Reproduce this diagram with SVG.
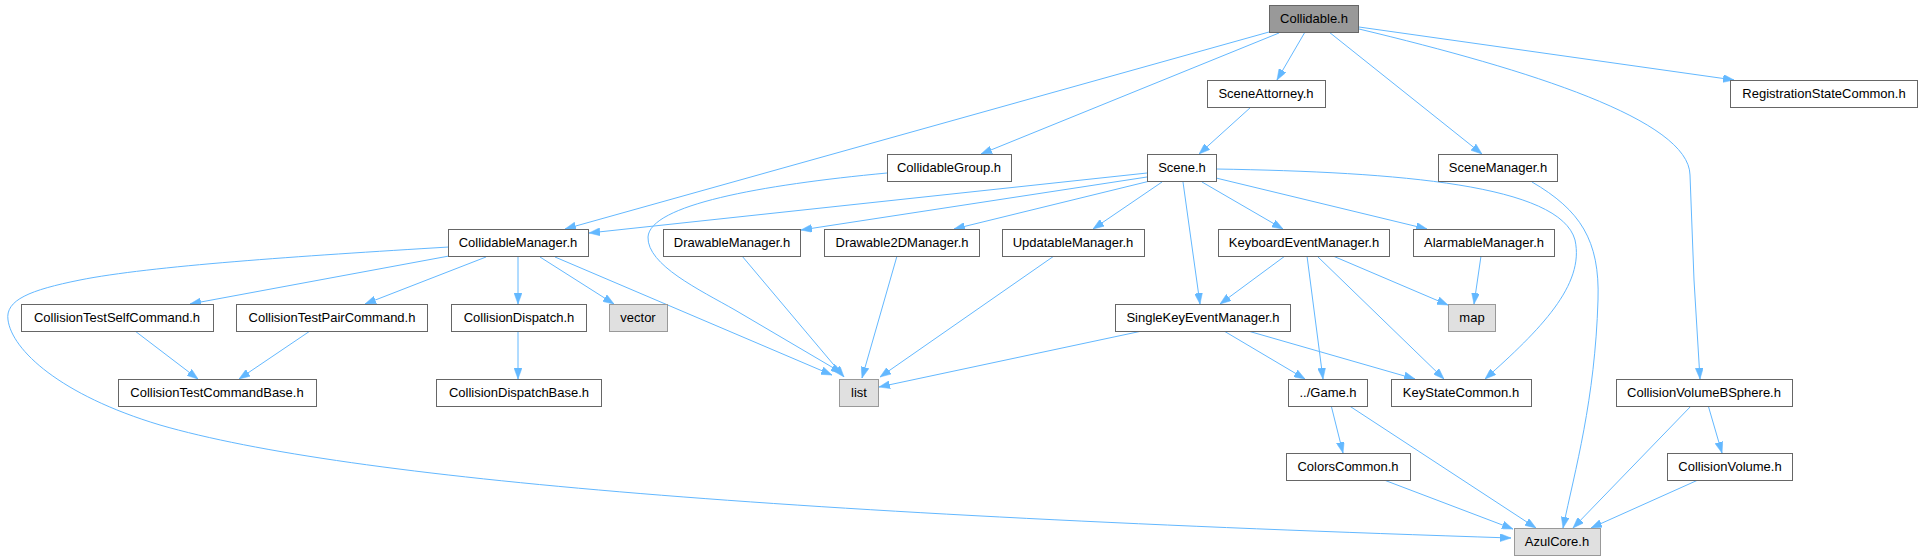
<svg xmlns="http://www.w3.org/2000/svg" width="1922" height="560" viewBox="0 0 1922 560">
<style>
.n rect{fill:#ffffff;stroke:#666666;stroke-width:1}
.n.root rect{fill:#999999;stroke:#666666}
.n.ext rect{fill:#e0e0e0;stroke:#999999}
.n text{font-family:"Liberation Sans",Arial,sans-serif;font-size:13px;fill:#000000;text-anchor:middle}
#edges path{fill:none;stroke:#63b8ff;stroke-width:1;marker-end:url(#ah)}
</style>
<defs>
<marker id="ah" viewBox="0 0 11 8" refX="11" refY="4" markerWidth="11" markerHeight="8" markerUnits="userSpaceOnUse" orient="auto">
<path d="M0,0 L11,4 L0,8 z" fill="#63b8ff" stroke="#63b8ff" stroke-width="0.5"/>
</marker>
</defs>
<rect width="1922" height="560" fill="#ffffff"/>
<g id="edges">
<path d="M1269,32 L565,229"/>
<path d="M1279,33 L981,154"/>
<path d="M1305,32 L1277,80"/>
<path d="M1329,32 L1482,154"/>
<path d="M1359,27 L1734,80"/>
<path d="M1359,29 C1530,70 1689,120 1690,175 L1694,280 L1700,379"/>
<path d="M1147,173 L589,233"/>
<path d="M1251,107 L1199,154"/>
<path d="M1147,177 L801,230"/>
<path d="M1150,181 L954,229"/>
<path d="M1162,182 L1093,229"/>
<path d="M1202,182 L1283,229"/>
<path d="M1216,178 L1427,229"/>
<path d="M1183,182 L1200,304"/>
<path d="M1216,169 C1400,172 1560,185 1575,240 C1585,285 1540,330 1485,379"/>
<path d="M887,173 C760,185 650,205 648,237 C647,265 700,290 735,310 L842,373"/>
<path d="M555,257 L832,375"/>
<path d="M540,257 L614,304"/>
<path d="M518,257 L518,304"/>
<path d="M486,257 L365,304"/>
<path d="M449,256 L190,304"/>
<path d="M449,247 C300,256 150,266 80,280 C30,290 5,300 8,320 C12,350 60,395 160,425 C350,480 800,515 1511,538"/>
<path d="M135,331 L198,379"/>
<path d="M310,331 L239,379"/>
<path d="M518,331 L518,379"/>
<path d="M742,256 L844,377"/>
<path d="M897,256 L862,378"/>
<path d="M1054,256 L880,377"/>
<path d="M1142,331 L879,387"/>
<path d="M1285,256 L1220,304"/>
<path d="M1224,331 L1305,379"/>
<path d="M1248,331 L1415,379"/>
<path d="M1307,256 L1323,379"/>
<path d="M1317,256 L1444,379"/>
<path d="M1333,256 L1448,305"/>
<path d="M1481,256 L1474,304"/>
<path d="M1532,182 C1580,210 1600,240 1598,300 C1595,400 1575,470 1563,528"/>
<path d="M1331,405 L1343,453"/>
<path d="M1348,405 L1536,528"/>
<path d="M1384,480 L1513,529"/>
<path d="M1692,405 L1573,528"/>
<path d="M1708,405 L1722,453"/>
<path d="M1698,480 L1591,528"/>
</g>
<g id="n_collidable" class="n root"><rect x="1269.5" y="5.5" width="89" height="27"/><text x="1314" y="23">Collidable.h</text></g>
<g id="n_sceneattorney" class="n"><rect x="1207.5" y="80.5" width="118" height="27"/><text x="1266" y="98">SceneAttorney.h</text></g>
<g id="n_registration" class="n"><rect x="1730.5" y="80.5" width="187" height="27"/><text x="1824" y="98">RegistrationStateCommon.h</text></g>
<g id="n_collidablegroup" class="n"><rect x="887.5" y="154.5" width="124" height="27"/><text x="949" y="172">CollidableGroup.h</text></g>
<g id="n_scene" class="n"><rect x="1147.5" y="154.5" width="69" height="27"/><text x="1182" y="172">Scene.h</text></g>
<g id="n_scenemanager" class="n"><rect x="1438.5" y="154.5" width="119" height="27"/><text x="1498" y="172">SceneManager.h</text></g>
<g id="n_collidablemanager" class="n"><rect x="448.5" y="229.5" width="140" height="27"/><text x="518" y="247">CollidableManager.h</text></g>
<g id="n_drawablemanager" class="n"><rect x="663.5" y="229.5" width="137" height="27"/><text x="732" y="247">DrawableManager.h</text></g>
<g id="n_drawable2dmanager" class="n"><rect x="824.5" y="229.5" width="155" height="27"/><text x="902" y="247">Drawable2DManager.h</text></g>
<g id="n_updatablemanager" class="n"><rect x="1002.5" y="229.5" width="142" height="27"/><text x="1073" y="247">UpdatableManager.h</text></g>
<g id="n_keyboardeventmanager" class="n"><rect x="1218.5" y="229.5" width="171" height="27"/><text x="1304" y="247">KeyboardEventManager.h</text></g>
<g id="n_alarmablemanager" class="n"><rect x="1413.5" y="229.5" width="141" height="27"/><text x="1484" y="247">AlarmableManager.h</text></g>
<g id="n_ctself" class="n"><rect x="21.5" y="304.5" width="192" height="27"/><text x="117" y="322">CollisionTestSelfCommand.h</text></g>
<g id="n_ctpair" class="n"><rect x="236.5" y="304.5" width="191" height="27"/><text x="332" y="322">CollisionTestPairCommand.h</text></g>
<g id="n_collisiondispatch" class="n"><rect x="451.5" y="304.5" width="135" height="27"/><text x="519" y="322">CollisionDispatch.h</text></g>
<g id="n_vector" class="n ext"><rect x="609.5" y="304.5" width="58" height="27"/><text x="638" y="322">vector</text></g>
<g id="n_singlekey" class="n"><rect x="1115.5" y="304.5" width="175" height="27"/><text x="1203" y="322">SingleKeyEventManager.h</text></g>
<g id="n_map" class="n ext"><rect x="1448.5" y="304.5" width="47" height="27"/><text x="1472" y="322">map</text></g>
<g id="n_ctbase" class="n"><rect x="118.5" y="379.5" width="198" height="27"/><text x="217" y="397">CollisionTestCommandBase.h</text></g>
<g id="n_dispatchbase" class="n"><rect x="436.5" y="379.5" width="165" height="27"/><text x="519" y="397">CollisionDispatchBase.h</text></g>
<g id="n_list" class="n ext"><rect x="839.5" y="379.5" width="39" height="27"/><text x="859" y="397">list</text></g>
<g id="n_game" class="n"><rect x="1288.5" y="379.5" width="79" height="27"/><text x="1328" y="397">../Game.h</text></g>
<g id="n_keystate" class="n"><rect x="1391.5" y="379.5" width="140" height="27"/><text x="1461" y="397">KeyStateCommon.h</text></g>
<g id="n_bsphere" class="n"><rect x="1616.5" y="379.5" width="176" height="27"/><text x="1704" y="397">CollisionVolumeBSphere.h</text></g>
<g id="n_colors" class="n"><rect x="1286.5" y="453.5" width="124" height="27"/><text x="1348" y="471">ColorsCommon.h</text></g>
<g id="n_collisionvolume" class="n"><rect x="1667.5" y="453.5" width="125" height="27"/><text x="1730" y="471">CollisionVolume.h</text></g>
<g id="n_azulcore" class="n ext"><rect x="1514.5" y="528.5" width="86" height="27"/><text x="1557" y="546">AzulCore.h</text></g>
</svg>
